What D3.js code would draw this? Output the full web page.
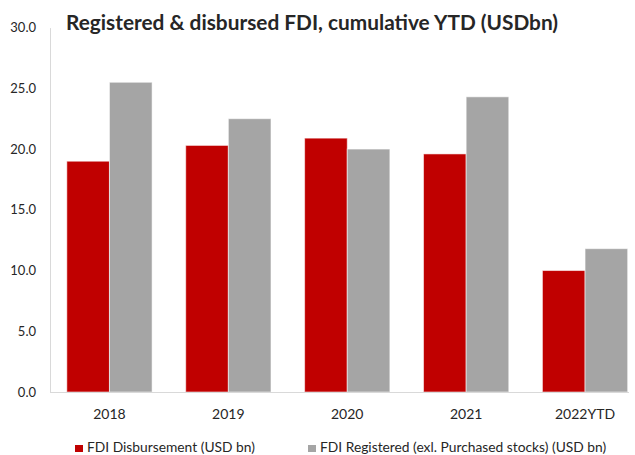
<!DOCTYPE html>
<html>
<head>
<meta charset="utf-8">
<script src="https://cdn.jsdelivr.net/npm/d3@7"></script>
<style>
  html, body { margin: 0; padding: 0; background: #fff; }
  svg { display: block; font-family: Lato, "Open Sans", sans-serif; }
</style>
</head>
<body>
<div id="chart"></div>
<script>
// ============ Data ============
const categories = ['2018', '2019', '2020', '2021', '2022YTD'];
const disbursed  = [19.0, 20.3, 20.9, 19.6, 10.0];
const registered = [25.5, 22.5, 20.0, 24.3, 11.8];
const seriesNames = ['FDI Disbursement (USD bn)', 'FDI Registered (exl. Purchased stocks) (USD bn)'];
const yTicks = [0, 5, 10, 15, 20, 25, 30];

const W = 635, H = 455;
const colors = ['#C00000', '#A5A5A5'];

const svg = d3.select('#chart').append('svg')
  .attr('width', W).attr('height', H);

// ── Scales ──
const x = d3.scaleBand().domain(categories).range([50, 644.5]).paddingInner(0.283).paddingOuter(0.1415);
const xs = d3.scaleBand().domain([0, 1]).range([0, x.bandwidth()]);
const y = d3.scaleLinear().domain([0, 30]).range([392, 27.6]);

// ── Y axis ──
const yAxis = svg.append('g')
  .attr('transform', 'translate(50,0)')
  .call(d3.axisLeft(y).tickValues(yTicks).tickFormat(d3.format('.1f')).tickSize(0).tickPadding(14));
yAxis.select('.domain').attr('stroke', '#d9d9d9');
yAxis.selectAll('text').attr('font-size', 13).attr('fill', '#262626').attr('font-family', 'Lato, sans-serif');

// ── Bars ──
const groups = svg.append('g').selectAll('g')
  .data(categories).enter().append('g')
  .attr('transform', d => `translate(${x(d)},0)`);

groups.selectAll('rect')
  .data((d, i) => [disbursed[i], registered[i]])
  .enter().append('rect')
  .attr('x', (d, j) => xs(j))
  .attr('width', xs.bandwidth())
  .attr('y', d => y(d))
  .attr('height', d => y(0) - y(d))
  .attr('fill', (d, j) => colors[j])
  .attr('stroke', 'rgba(255,255,255,0.55)')
  .attr('stroke-width', 1);

// ── X axis (baseline + labels) ──
svg.append('line')
  .attr('x1', 50).attr('x2', 629)
  .attr('y1', y(0) + 0.5).attr('y2', y(0) + 0.5)
  .attr('stroke', '#d9d9d9');

svg.append('g').selectAll('text')
  .data(categories).enter().append('text')
  .attr('x', d => x(d) + x.bandwidth() / 2)
  .attr('y', 419)
  .attr('text-anchor', 'middle')
  .attr('font-size', 14)
  .attr('fill', '#262626')
  .text(d => d);

// ── Title ──
svg.append('rect').attr('x', 56).attr('y', 8).attr('width', 510).attr('height', 30).attr('fill', '#fff');
svg.append('text')
  .attr('x', 66).attr('y', 30)
  .attr('font-size', 20.5)
  .attr('font-weight', 700)
  .attr('fill', '#262626')
  .attr('textLength', 492)
  .attr('lengthAdjust', 'spacingAndGlyphs')
  .text('Registered & disbursed FDI, cumulative YTD (USDbn)');

// ── Legend ──
const legendX = [75, 308];
const legend = svg.append('g').selectAll('g')
  .data(seriesNames).enter().append('g')
  .attr('transform', (d, i) => `translate(${legendX[i]},0)`);
legend.append('rect')
  .attr('x', 0).attr('y', 445).attr('width', 8).attr('height', 7)
  .attr('fill', (d, i) => colors[i]);
legend.append('text')
  .attr('x', 12).attr('y', 452)
  .attr('font-size', 13.8)
  .attr('fill', '#262626')
  .text(d => d);
</script>
</body>
</html>
